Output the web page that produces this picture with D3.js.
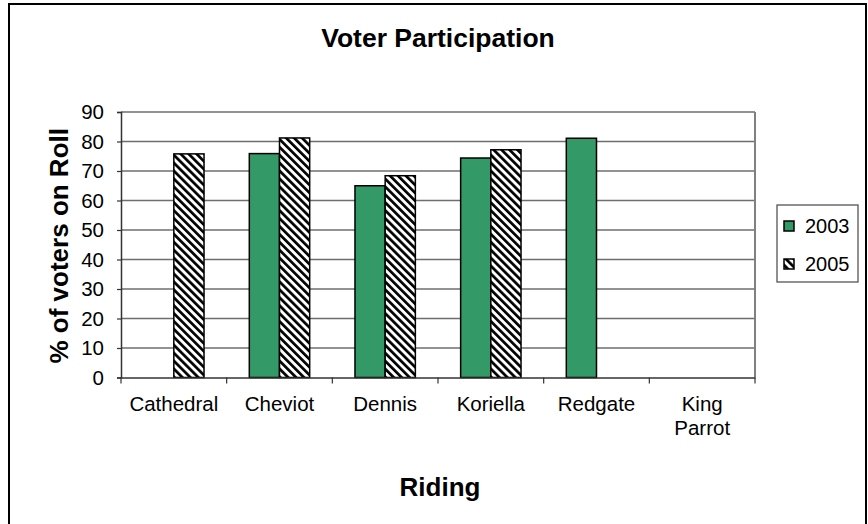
<!DOCTYPE html>
<html>
<head>
<meta charset="utf-8">
<script src="https://cdn.jsdelivr.net/npm/d3@7"></script>
<style>
  body { margin: 0; background: #fff; }
  svg { display: block; font-family: "Liberation Sans", Arial, sans-serif; }
</style>
</head>
<body>
<svg id="chart" width="868" height="524"></svg>
<script>
// valores
const categories = ["Cathedral", "Cheviot", "Dennis", "Koriella", "Redgate", "King Parrot"]
const series = ["2003", "2005"]
const values2003 = [null, 75.9, 65.0, 74.4, 81.1, null]
const values2005 = [75.8, 81.2, 68.4, 77.2, null, null]
const yTicks = [0, 10, 20, 30, 40, 50, 60, 70, 80, 90]

const svg = d3.select('#chart')
const plot = { left: 121, right: 755, top: 112, bottom: 377.5 }

// patron rayado
const defs = svg.append('defs')
const pat = defs.append('pattern')
    .attr('id', 'hatch')
    .attr('patternUnits', 'userSpaceOnUse')
    .attr('width', 5.6).attr('height', 5.6)
    .attr('patternTransform', 'rotate(-45)')
pat.append('rect').attr('width', 5.6).attr('height', 5.6).attr('fill', '#fff')
pat.append('rect').attr('width', 2.7).attr('height', 5.6).attr('fill', '#000')

const fills = { "2003": '#339966', "2005": 'url(#hatch)' }

// borde exterior
svg.append('rect')
    .attr('x', 9).attr('y', 4)
    .attr('width', 857).attr('height', 530)
    .attr('fill', 'none').attr('stroke', '#000').attr('stroke-width', 2)

const x0 = d3.scaleBand().domain(categories).range([plot.left, plot.right])
const groupW = x0.bandwidth() / 3.5 * 2
const x1 = d3.scaleBand().domain(series).range([0, groupW])
const y = d3.scaleLinear().domain([0, 90]).range([plot.bottom, plot.top])

// lineas de grilla
svg.append('g')
    .selectAll('line')
    .data(yTicks.filter(t => t > 0))
    .join('line')
    .attr('x1', plot.left).attr('x2', plot.right)
    .attr('y1', d => y(d)).attr('y2', d => y(d))
    .attr('stroke', '#6e6e6e').attr('stroke-width', 1.3)

// borde derecho del area
svg.append('line')
    .attr('x1', plot.right).attr('x2', plot.right)
    .attr('y1', plot.top).attr('y2', plot.bottom)
    .attr('stroke', '#808080').attr('stroke-width', 2)

// barras
const rows = categories.map((c, i) => ({ cat: c, vals: [values2003[i], values2005[i]] }))
svg.append('g')
    .selectAll('g')
    .data(rows)
    .join('g')
    .attr('transform', d => `translate(${x0(d.cat) + (x0.bandwidth() - groupW) / 2},0)`)
    .selectAll('rect')
    .data(d => series.map((s, j) => ({ s, v: d.vals[j] })).filter(d => d.v != null))
    .join('rect')
    .attr('x', d => x1(d.s))
    .attr('width', x1.bandwidth())
    .attr('y', d => y(d.v))
    .attr('height', d => y(0) - y(d.v))
    .attr('fill', d => fills[d.s])
    .attr('stroke', '#000')
    .attr('stroke-width', 1.5)

// eje y
const yAxis = svg.append('g')
    .attr('transform', `translate(${plot.left},0)`)
    .call(d3.axisLeft(y).tickValues(yTicks).tickSize(4).tickPadding(13))
yAxis.select('.domain').attr('stroke', '#333').attr('stroke-width', 1.5)
yAxis.selectAll('.tick line').attr('stroke', '#333').attr('stroke-width', 1.2)
yAxis.selectAll('text').attr('font-size', 20.5).attr('fill', '#000')
    .attr('font-family', '"Liberation Sans", Arial, sans-serif')

// eje x
const xAxis = svg.append('g')
    .attr('transform', `translate(0,${plot.bottom})`)
    .call(d3.axisBottom(x0).tickSize(0).tickPadding(19))
xAxis.select('.domain').attr('stroke', '#333').attr('stroke-width', 1.5)
xAxis.selectAll('text').attr('font-size', 20.5).attr('fill', '#000')
    .attr('font-family', '"Liberation Sans", Arial, sans-serif')
    .each(function (d) {
        const t = d3.select(this)
        const words = d.split(' ')
        if (this.getComputedTextLength() > x0.bandwidth() - 12 && words.length > 1) {
            t.text(null)
            words.forEach((w, k) => {
                t.append('tspan').attr('x', 0).attr('dy', k === 0 ? '0.71em' : '1.15em').text(w)
            })
            t.attr('dy', null)
        }
    })

// marcas entre categorias
xAxis.selectAll('.sep')
    .data(categories.map(c => x0(c)).concat([plot.right]))
    .join('line')
    .attr('class', 'sep')
    .attr('x1', d => d).attr('x2', d => d)
    .attr('y1', 0).attr('y2', 6)
    .attr('stroke', '#333').attr('stroke-width', 1.2)

// titulos
svg.append('text')
    .attr('x', 438).attr('y', 47)
    .attr('text-anchor', 'middle')
    .attr('font-size', 26.5).attr('font-weight', 'bold')
    .text('Voter Participation')

svg.append('text')
    .attr('transform', `translate(68,${(plot.top + plot.bottom) / 2 + 1}) rotate(-90)`)
    .attr('text-anchor', 'middle')
    .attr('font-size', 26).attr('font-weight', 'bold')
    .text('% of voters on Roll')

svg.append('text')
    .attr('x', 440).attr('y', 496)
    .attr('text-anchor', 'middle')
    .attr('font-size', 26).attr('font-weight', 'bold')
    .text('Riding')

// leyenda
const legend = svg.append('g')
legend.append('rect')
    .attr('x', 777).attr('y', 205)
    .attr('width', 81).attr('height', 77)
    .attr('fill', '#fff').attr('stroke', '#555').attr('stroke-width', 1.3)

legend.selectAll('g')
    .data(series)
    .join('g')
    .attr('transform', (d, i) => `translate(784,${221 + i * 38})`)
    .each(function (d) {
        const g = d3.select(this)
        g.append('rect').attr('width', 10).attr('height', 10)
            .attr('fill', fills[d]).attr('stroke', '#000').attr('stroke-width', 1.5)
        g.append('text').attr('x', 21).attr('y', 5).attr('dy', '0.35em')
            .attr('font-size', 20).text(d)
    })
</script>
</body>
</html>
